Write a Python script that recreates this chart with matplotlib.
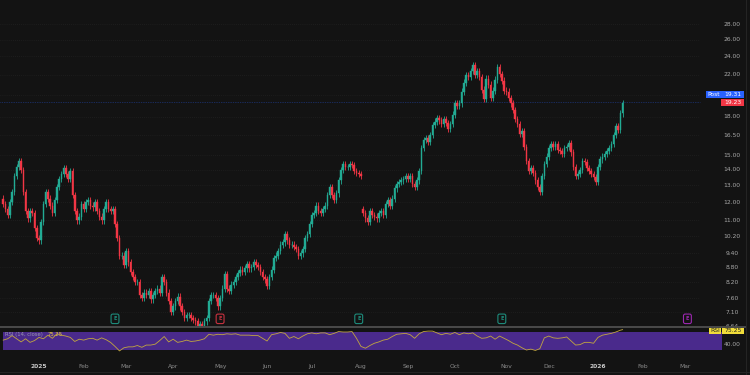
import numpy as np
import pandas as pd
import matplotlib
matplotlib.use("Agg")
import matplotlib.pyplot as plt
from matplotlib.patches import Rectangle
from matplotlib.transforms import blended_transform_factory

# ---------------- data ----------------
start_date = "2024-12-09"
holidays = ["2024-12-25", "2025-01-01", "2025-01-09", "2025-01-20", "2025-02-17",
            "2025-04-18", "2025-05-26", "2025-06-19", "2025-07-04", "2025-09-01",
            "2025-11-27", "2025-12-25", "2026-01-01", "2026-01-19", "2026-02-16"]

closes = [
    11.9, 11.6, 11.3, 12.0, 12.6, 13.6, 14.2, 14.6, 14.0, 12.6,
    11.5, 11.1, 11.5, 11.4, 10.6, 10.1, 10.0, 10.9, 11.9, 12.6,
    12.2, 11.8, 11.4, 12.1, 12.9, 13.4, 13.7, 14.1, 13.7, 13.4,
    13.9, 12.4, 11.5, 11.0, 11.2, 11.9, 11.6, 12.0, 12.1, 11.8,
    11.7, 12.0, 11.5, 11.2, 11.0, 11.6, 12.0, 11.6, 11.5, 11.6,
    10.8, 10.1, 9.3, 9.3, 8.9, 9.5, 9.0, 8.6, 8.4, 8.2,
    8.2, 7.7, 7.6, 7.8, 7.7, 7.85, 7.55, 7.7, 7.85, 7.95,
    7.8, 8.4, 8.2, 7.8, 7.5, 7.1, 7.3, 7.5, 7.65, 7.3,
    7.1, 6.9, 7.0, 7.0, 6.9, 6.85, 6.8, 6.6, 6.7, 6.65,
    6.8, 6.9, 7.5, 7.7, 7.7, 7.6, 7.3, 7.6, 7.95, 8.5,
    7.95, 7.85, 8.1, 8.2, 8.4, 8.55, 8.7, 8.6, 8.75, 8.95,
    8.75, 8.8, 9.0, 8.9, 8.8, 8.6, 8.4, 8.3, 8.05, 8.4,
    8.7, 9.2, 9.3, 9.5, 9.8, 9.9, 10.3, 10.0, 9.8, 9.8,
    9.7, 9.6, 9.3, 9.4, 9.6, 10.1, 10.3, 10.8, 11.3, 11.4,
    11.8, 11.5, 11.4, 11.6, 11.8, 12.4, 12.9, 12.4, 12.1, 12.5,
    13.3, 14.0, 14.4, 14.2, 14.2, 14.4, 14.3, 13.9, 13.8, 13.7,
    13.6, 11.4, 11.1, 10.9, 11.5, 11.3, 11.2, 11.1, 11.4, 11.5,
    11.3, 11.9, 12.1, 11.8, 12.2, 12.8, 13.1, 13.2, 13.3, 13.4,
    13.6, 13.4, 13.6, 13.1, 12.9, 13.3, 13.9, 15.5, 16.1, 16.3,
    16.0, 16.5, 17.3, 17.6, 17.9, 17.7, 17.4, 17.8, 17.5, 17.0,
    17.4, 18.2, 19.2, 19.0, 19.2, 20.3, 21.2, 22.0, 21.8, 22.4,
    23.0, 22.0, 22.4, 21.8, 20.5, 19.6, 21.6, 21.0, 19.7, 20.4,
    21.5, 22.8, 22.1, 21.4, 20.4, 20.3, 19.7, 19.2, 18.6, 17.8,
    17.4, 16.6, 16.8, 15.6, 14.6, 13.9, 14.1, 13.8, 13.3, 12.9,
    12.6, 13.6, 14.4, 14.9, 15.5, 15.8, 15.6, 15.8, 15.4, 15.3,
    15.1, 15.5, 15.6, 15.9, 15.2, 14.2, 13.6, 13.7, 14.0, 14.6,
    14.5, 14.1, 13.9, 13.7, 13.5, 13.2, 14.2, 14.7, 14.9, 15.1,
    15.3, 15.5, 15.8, 16.5, 17.2, 16.9, 18.3, 19.23,
]
first_open = 12.2
gap_opens = {161: 11.6}

rsi_every_2nd_bar = [
    52, 55, 62, 55, 48, 55, 47, 51, 58, 55, 63, 56, 66, 63, 61, 58, 49, 54, 52, 55,
    56, 52, 57, 53, 47, 38, 28, 35, 37, 37, 40, 36, 41, 41, 43, 51, 60, 48, 54, 47,
    49, 52, 49, 50, 52, 55, 65, 63, 65, 64, 66, 65, 66, 63, 63, 63, 62, 62, 56, 50,
    64, 66, 69, 67, 56, 60, 55, 61, 66, 68, 66, 68, 68, 64, 67, 71, 70, 70, 71, 56,
    38, 34, 40, 45, 48, 52, 54, 60, 65, 66, 67, 64, 56, 66, 71, 72, 72, 68, 64, 67,
    65, 69, 64, 68, 66, 68, 61, 56, 57, 61, 54, 61, 56, 51, 45, 41, 35, 30, 32, 29,
    33, 57, 61, 57, 56, 57, 59, 50, 41, 42, 47, 47, 45, 58, 63, 65, 67, 70, 74,
]
rsi_last = 75.25

last_price = 19.23
post_price = 19.31

price_ticks = [28.0, 26.0, 24.0, 22.0, 18.0, 16.5, 15.0, 14.0, 13.0, 12.0,
               11.0, 10.2, 9.4, 8.8, 8.2, 7.6, 7.1, 6.64]
price_tick_labels = ["28.00", "26.00", "24.00", "22.00", "18.00", "16.50", "15.00",
                     "14.00", "13.00", "12.00", "11.00", "10.20", "9.40", "8.80",
                     "8.20", "7.60", "7.10", "6.64"]

month_dates = ["2025-01-02", "2025-02-03", "2025-03-03", "2025-04-01", "2025-05-01",
               "2025-06-02", "2025-07-01", "2025-08-01", "2025-09-02", "2025-10-01",
               "2025-11-03", "2025-12-01", "2026-01-02", "2026-02-02", "2026-03-02"]
month_labels = ["2025", "Feb", "Mar", "Apr", "May", "Jun", "Jul", "Aug", "Sep", "Oct",
                "Nov", "Dec", "2026", "Feb", "Mar"]

earn_dates = ["2025-02-24", "2025-05-01", "2025-07-31", "2025-10-30", "2026-03-03"]
earn_colors = ["#1e8c7c", "#c8323f", "#1e8c7c", "#1e8c7c", "#9c27b0"]

# ---------------- derived ----------------
n = len(closes)
cbd = pd.offsets.CustomBusinessDay(holidays=holidays)
all_days = pd.date_range(start=start_date, periods=340, freq=cbd)
day_index = {d.strftime("%Y-%m-%d"): i for i, d in enumerate(all_days)}

c = np.array(closes)
o = np.concatenate([[first_open], c[:-1]])
for k, v in gap_opens.items():
    o[k] = v
idx = np.arange(n)

rsi_idx = list(range(0, 2 * len(rsi_every_2nd_bar), 2)) + [n - 1]
rsi_vals = rsi_every_2nd_bar + [rsi_last]

# ---------------- style ----------------
W, H = 750, 375
BG = "#131313"
GREEN = "#22ab94"
RED = "#f23645"
TXT = "#a8a8a8"
FS = 4.3

def fx(px):
    return px / W

def fy(py):
    return 1 - py / H

fig = plt.figure(figsize=(7.5, 3.75), dpi=100, facecolor=BG)

x0px, dx = 3.2, 2.236
plot_right = 722
xlim = ((0 - x0px) / dx, (plot_right - x0px) / dx)

# price pane
axp = fig.add_axes([0, fy(327), fx(plot_right), 327 / H])
axp.set_facecolor(BG)
axp.set_yscale("log")
axp.set_ylim(6.62, 31.4)
axp.set_xlim(*xlim)
for sp in axp.spines.values():
    sp.set_visible(False)
axp.set_xticks([])
axp.set_yticks([])
axp.yaxis.set_minor_locator(matplotlib.ticker.NullLocator())

grid_frac = 700 / plot_right
for t in price_ticks + [20.0]:
    axp.axhline(t, xmin=0, xmax=grid_frac, color="#262626", lw=0.5, ls=(0, (1, 2)), zorder=0)

axp.axhline(post_price, xmin=0, xmax=grid_frac, color="#2962ff", lw=0.5, ls=(0, (1, 1.5)),
            alpha=0.6, zorder=1)

cols = np.where(c >= o, GREEN, RED)
lo = np.minimum(o, c)
hi = np.maximum(o, c)
wick_pad = 0.015
axp.vlines(idx, lo * (1 - wick_pad), hi * (1 + wick_pad), colors=cols, lw=0.6, zorder=2)
axp.bar(idx, hi - lo, bottom=lo, width=0.7, color=cols, edgecolor=cols, lw=0.3, zorder=3)

# price labels on the right
tr = blended_transform_factory(fig.transFigure, axp.transData)
for t, lab in zip(price_ticks, price_tick_labels):
    axp.text(fx(732), t, lab, transform=tr, ha="center", va="center",
             fontsize=FS, color=TXT, clip_on=False)

# earnings markers
etr = blended_transform_factory(axp.transData, axp.transAxes)
for dstr, col in zip(earn_dates, earn_colors):
    ei = day_index[dstr]
    axp.text(ei, 0.025, "E", transform=etr,
             ha="center", va="center", fontsize=3.6, color=col, fontweight="bold",
             bbox=dict(boxstyle="round,pad=0.45,rounding_size=0.35", fc=BG, ec=col, lw=0.8),
             zorder=5)

# RSI pane
axr = fig.add_axes([0, fy(356), fx(plot_right), 28 / H])
axr.set_facecolor(BG)
axr.set_xlim(*xlim)
axr.set_ylim(16.7, 78.9)
for sp in axr.spines.values():
    sp.set_visible(False)
axr.axhspan(30, 70, xmin=3 / plot_right, xmax=1, color="#4a2a8c", lw=0, zorder=0)
axr.plot(rsi_idx, rsi_vals, color="#c2a640", lw=0.6, zorder=2)
axr.set_yticks([])
tick_pos = [day_index[m] for m in month_dates]
axr.set_xticks(tick_pos)
axr.set_xticklabels(month_labels)
axr.tick_params(axis="x", length=0, pad=5.5, labelsize=FS, colors="#8c8c8c")
for lab in axr.get_xticklabels():
    if lab.get_text() in ("2025", "2026"):
        lab.set_color("#c8c8c8")
        lab.set_fontweight("bold")

axr.text(fx(5), fy(334.5), "RSI (14, close)", transform=fig.transFigure, fontsize=3.8,
         color="#9a96b0", ha="left", va="center")
axr.text(fx(48), fy(334.5), f"{rsi_last:.2f}", transform=fig.transFigure, fontsize=3.8,
         color="#e8cc3a", ha="left", va="center")
axr.text(fx(732), fy(344), "40.00", transform=fig.transFigure, fontsize=FS, color=TXT,
         ha="center", va="center")

# separator line
fig.add_artist(plt.Line2D([0, fx(746)], [fy(326.8), fy(326.8)], transform=fig.transFigure,
                          color="#4a4a4a", lw=1.4))
# bottom / right borders
fig.add_artist(plt.Line2D([0, 1], [fy(372), fy(372)], transform=fig.transFigure,
                          color="#242424", lw=0.8))
fig.add_artist(plt.Line2D([fx(745.5), fx(745.5)], [0, 1], transform=fig.transFigure,
                          color="#242424", lw=0.8))


def tag(x0, x1, y0, y1, fc, text, tc):
    fig.add_artist(Rectangle((fx(x0), fy(y1)), fx(x1) - fx(x0), (y1 - y0) / H,
                             transform=fig.transFigure, fc=fc, ec="none", zorder=10))
    fig.text(fx((x0 + x1) / 2), fy((y0 + y1) / 2), text, ha="center", va="center",
             fontsize=FS, color=tc, zorder=11)


tag(705.7, 720.7, 91, 97.5, "#2962ff", "Post", "#ffffff")
tag(721.3, 743.5, 91, 97.5, "#2962ff", f"{post_price:.2f}", "#ffffff")
tag(721.3, 743.5, 98.5, 106, RED, f"{last_price:.2f}", "#ffffff")
tag(709, 721, 327.7, 334.3, "#f0dc3a", "RSI", "#222222")
tag(722, 744, 327.7, 334.3, "#f0dc3a", f"{rsi_last:.2f}", "#222222")

fig.savefig("out.png", dpi=100, facecolor=BG)
